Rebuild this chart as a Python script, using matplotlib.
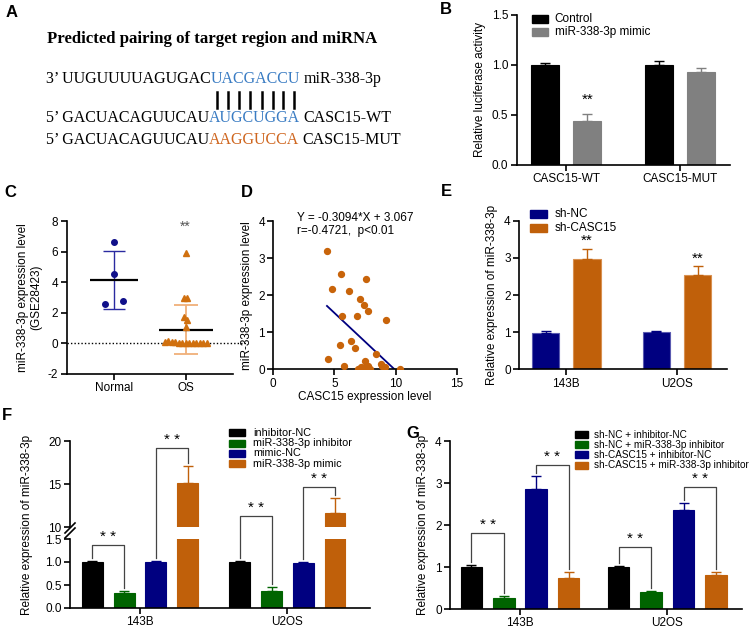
import matplotlib.pyplot as plt
import numpy as np
from matplotlib.lines import Line2D
from matplotlib.patches import Rectangle

W, H = 753, 630
plt.rcParams["font.family"] = ["Liberation Sans", "DejaVu Sans"]
plt.rcParams["font.size"] = 8.5
plt.rcParams["axes.unicode_minus"] = False

black = "#000000"
grey = "#808080"
navy = "#000080"
orange = "#c0600a"
green = "#006400"
seq_blue = "#3a7cc3"
seq_orange = "#cf661f"

# ---------------- data ----------------
# A: predicted pairing
seq_lines = [
    ("3\u2019 UUGUUUUAGUGAC", "UACGACCU", "miR-338-3p", seq_blue),
    ("5\u2019 GACUACAGUUCAU", "AUGCUGGA", "CASC15-WT", seq_blue),
    ("5\u2019 GACUACAGUUCAU", "AAGGUCCA", "CASC15-MUT", seq_orange),
]

# B: luciferase
b_groups = ["CASC15-WT", "CASC15-MUT"]
b_control = [1.0, 1.0]
b_control_err = [0.02, 0.04]
b_mimic = [0.44, 0.93]
b_mimic_err = [0.07, 0.04]

# C: GSE28423
c_groups = ["Normal", "OS"]
c_normal = [6.6, 4.55, 2.55, 2.8]
c_os = [5.9, 3.0, 3.0, 1.7, 1.55, 1.1,
        0.07, 0.17, 0.09, 0.07, 0.04, 0.03, 0.03, 0.03, 0.03, 0.03, 0.03, 0.03, 0.03]
c_mean = [4.15, 0.9]
c_sd = [1.9, 1.6]

# D: correlation
d_casc15 = [4.39, 5.5, 4.8, 6.17, 7.56, 7.1, 7.4, 7.75, 5.64, 6.83, 9.25, 5.44, 6.33,
            6.67, 8.36, 4.44, 7.5, 5.78, 6.89, 7.2, 7.5, 7.75, 8.78, 8.89, 9.1, 10.36, 7.9]
d_mir = [3.2, 2.56, 2.17, 2.1, 2.43, 1.89, 1.74, 1.57, 1.45, 1.44, 1.34, 0.66, 0.75,
         0.57, 0.40, 0.29, 0.23, 0.09, 0.01, 0.05, 0.06, 0.1, 0.13, 0.1, 0.06, 0.0, 0.0]
d_slope, d_intercept = -0.3094, 3.067

# E: sh-CASC15
e_groups = ["143B", "U2OS"]
e_nc = [0.98, 1.0]
e_nc_err = [0.04, 0.02]
e_sh = [2.97, 2.55]
e_sh_err = [0.28, 0.22]

# F: inhibitor / mimic
f_groups = ["143B", "U2OS"]
f_labels = ["inhibitor-NC", "miR-338-3p inhibitor", "mimic-NC", "miR-338-3p mimic"]
f_inh_nc = [1.0, 1.0]
f_inh_nc_err = [0.02, 0.03]
f_inh = [0.32, 0.38]
f_inh_err = [0.05, 0.07]
f_mim_nc = [1.0, 0.98]
f_mim_nc_err = [0.02, 0.02]
f_mim = [15.1, 11.7]
f_mim_err = [2.0, 1.7]
# (group, bar a, bar b, bracket height)
f_brackets = [(0, 0, 1, 1.37), (0, 2, 3, 19.15), (1, 0, 1, 11.3), (1, 2, 3, 14.7)]

# G: rescue
g_groups = ["143B", "U2OS"]
g_labels = ["sh-NC + inhibitor-NC", "sh-NC + miR-338-3p inhibitor",
            "sh-CASC15 + inhibitor-NC", "sh-CASC15 + miR-338-3p inhibitor"]
g_shnc_inc = [1.0, 1.0]
g_shnc_inc_err = [0.04, 0.03]
g_shnc_inh = [0.27, 0.4]
g_shnc_inh_err = [0.04, 0.04]
g_sh_inc = [2.85, 2.35]
g_sh_inc_err = [0.32, 0.18]
g_sh_inh = [0.75, 0.82]
g_sh_inh_err = [0.12, 0.07]
g_brackets = [(0, 0, 1, 1.82), (0, 2, 3, 3.44), (1, 0, 1, 1.47), (1, 2, 3, 2.9)]

# ---------------- helpers ----------------
fig = plt.figure(figsize=(W / 100, H / 100), dpi=100)
renderer = fig.canvas.get_renderer()


def add_ax(left, top, right, bottom):
    return fig.add_axes([left / W, 1 - bottom / H, (right - left) / W, (bottom - top) / H])


def prism(ax):
    for s in ("top", "right"):
        ax.spines[s].set_visible(False)
    for s in ("left", "bottom"):
        ax.spines[s].set_linewidth(1.2)
    ax.tick_params(direction="out", length=4, width=1.2, labelsize=8.5, pad=2)


def draw_bars(ax, x, vals, errs, color, width, edge=None):
    ax.bar(x, vals, width, color=color, edgecolor=edge or color, linewidth=0.8, zorder=2)
    ax.errorbar(x, vals, yerr=[np.zeros(len(vals)), errs], fmt="none", ecolor=color,
                elinewidth=1, capsize=3.6, capthick=1, zorder=3)


def legend_block(x0, y0, labels, colors, step, size, box_w, box_h, gap):
    for i, (lab, col) in enumerate(zip(labels, colors)):
        y = y0 + i * step
        fig.patches.append(Rectangle(((x0) / W, 1 - (y + box_h / 2) / H), box_w / W, box_h / H,
                                     transform=fig.transFigure, color=col, figure=fig))
        fig.text((x0 + box_w + gap) / W, 1 - y / H, lab, fontsize=size, va="center")


def panel_label(x, y, s):
    fig.text(x / W, 1 - y / H, s, fontsize=12, fontweight="bold", ha="center", va="center")


def to_fig(disp):
    return fig.transFigure.inverted().transform(disp)


def bracket(pick_ax, x1, v1, x2, v2, top, gap=3):
    a1 = pick_ax(v1).transData.transform((x1, v1))
    a2 = pick_ax(v2).transData.transform((x2, v2))
    a1[1] += gap
    a2[1] += gap
    t1 = pick_ax(top).transData.transform((x1, top))
    t2 = pick_ax(top).transData.transform((x2, top))
    pts = to_fig(np.array([a1, t1, t2, a2]))
    fig.lines.append(Line2D(pts[:, 0], pts[:, 1], transform=fig.transFigure,
                            color="#444444", lw=0.9, figure=fig))
    mid = to_fig(((t1[0] + t2[0]) / 2, t1[1] + 8))
    fig.text(mid[0], mid[1], "* *", ha="center", va="center", fontsize=11)


def swarm(values, dy, step):
    values = np.asarray(values, dtype=float)
    offs = np.zeros(len(values))
    used = np.zeros(len(values), bool)
    for i in range(len(values)):
        if used[i]:
            continue
        idx = [j for j in range(len(values)) if not used[j] and abs(values[j] - values[i]) < dy]
        for k, j in enumerate(idx):
            offs[j] = (k - (len(idx) - 1) / 2) * step
            used[j] = True
    return offs


# ---------------- A ----------------
panel_label(11.7, 12.3, "A")
serif = ["Liberation Serif", "DejaVu Serif"]
seq_size = 11.5
fig.text(211.7 / W, 1 - 39 / H, "Predicted pairing of target region and miRNA",
         family=serif, fontsize=12.1, fontweight="bold", ha="center", va="center")


def text_width(s):
    t = fig.text(0, 0, s, fontsize=seq_size, family=serif)
    w = t.get_window_extent(renderer).width
    t.remove()
    return w


x0 = 46
bar_centers = []
for (head, core, tail, col), y in zip(seq_lines, [78.7, 118.3, 140]):
    fig.text(x0 / W, 1 - y / H, head, family=serif, fontsize=seq_size, va="center")
    xr = x0 + text_width(head + core)
    fig.text(xr / W, 1 - y / H, core, family=serif, fontsize=seq_size, va="center",
             ha="right", color=col)
    xf = x0 + text_width(head + core + " " + tail)
    fig.text(xf / W, 1 - y / H, tail, family=serif, fontsize=seq_size, va="center", ha="right")
    if not bar_centers:
        for i, ch in enumerate(core):
            right = x0 + text_width(head + core[:i + 1])
            bar_centers.append(right - text_width(ch) / 2)
for bx in bar_centers:
    fig.lines.append(Line2D([bx / W, bx / W], [1 - 91.7 / H, 1 - 108.3 / H],
                            transform=fig.transFigure, color="black", lw=1.8, figure=fig))

# ---------------- B ----------------
panel_label(445.8, 9.2, "B")
axb = add_ax(516.7, 14.7, 730, 164.7)
prism(axb)
xb = np.arange(len(b_groups))
draw_bars(axb, xb - 0.187, b_control, b_control_err, black, 0.245)
draw_bars(axb, xb + 0.187, b_mimic, b_mimic_err, grey, 0.245)
axb.set_xlim(-0.432, 1.44)
axb.set_ylim(0, 1.5)
axb.set_yticks([0, 0.5, 1.0, 1.5])
axb.yaxis.set_major_formatter("{x:.1f}")
axb.set_xticks(xb, b_groups)
axb.set_ylabel("Relative luciferase activity", fontsize=8.5)
axb.text(xb[0] + 0.187, b_mimic[0] + b_mimic_err[0] + 0.14, "**", ha="center",
         va="center", fontsize=11)
legend_block(531.7, 19, ["Control", "miR-338-3p mimic"], [black, grey], 13.3, 8.5, 16.6, 8, 6.5)

# ---------------- C ----------------
panel_label(10, 192.5, "C")
axc = add_ax(66.7, 221, 233, 374)
prism(axc)
axc.set_xlim(-0.66, 1.66)
axc.set_ylim(-2, 8)
axc.set_yticks(np.arange(-2, 9, 2))
axc.set_xticks([0, 1], c_groups)
axc.plot([-0.66, 1.85], [0, 0], ls=(0, (1, 1.5)), color="black", lw=1, clip_on=False)
axc.errorbar([0], [c_mean[0]], yerr=[c_sd[0]], fmt="none", ecolor="#2a2aa0", elinewidth=1,
             capsize=8.2, capthick=1, zorder=2)
axc.errorbar([1], [c_mean[1]], yerr=[c_sd[1]], fmt="none", ecolor="#f0b07a", elinewidth=1.3,
             capsize=8.6, capthick=1.3, zorder=2)
axc.hlines(c_mean[0], -0.33, 0.33, color="black", lw=1.6, zorder=3)
axc.hlines(c_mean[1], 1 - 0.376, 1 + 0.376, color="black", lw=1.6, zorder=3)
axc.plot(0 + swarm(c_normal, 0.4, 0.26), c_normal, "o", color="#10108a", ms=4, zorder=4)
axc.plot(1 + swarm(c_os, 0.3, 0.049), c_os, "^", color="#d0700f", ms=4.2, zorder=4,
         clip_on=False)
axc.text(1, 7.6, "**", ha="center", va="center", color="#555555", fontsize=10)
axc.set_ylabel("miR-338-3p expression level\n(GSE28423)", fontsize=8.5)

# ---------------- D ----------------
panel_label(247, 192.5, "D")
axd = add_ax(273.3, 221, 456.7, 369.3)
prism(axd)
axd.scatter(d_casc15, d_mir, s=18, color="#c8640a", zorder=3)
xl = np.array([min(d_casc15), max(d_casc15)])
axd.plot(xl, d_slope * xl + d_intercept, color=navy, lw=1.3, zorder=2)
axd.set_xlim(0, 15)
axd.set_ylim(0, 4)
axd.set_xticks([0, 5, 10, 15])
axd.set_yticks([0, 1, 2, 3, 4])
axd.set_xlabel("CASC15 expression level", fontsize=8.5, labelpad=1)
axd.set_ylabel("miR-338-3p expression level", fontsize=8.5)
axd.text(1.95, 4.08, "Y = -0.3094*X + 3.067", fontsize=8.5, va="center")
axd.text(1.95, 3.72, "r=-0.4721,  p<0.01", fontsize=8.5, va="center")

# ---------------- E ----------------
panel_label(446.7, 191.7, "E")
axe = add_ax(519, 220.7, 726.7, 369.3)
prism(axe)
xe = np.arange(len(e_groups))
draw_bars(axe, xe - 0.187, e_nc, e_nc_err, navy, 0.248, edge="#5a5ab0")
draw_bars(axe, xe + 0.187, e_sh, e_sh_err, orange, 0.248, edge="#d89050")
axe.set_xlim(-0.427, 1.449)
axe.set_ylim(0, 4)
axe.set_yticks([0, 1, 2, 3, 4])
axe.set_xticks(xe, e_groups)
axe.set_ylabel("Relative expression of miR-338-3p", fontsize=8.5)
for i in range(len(xe)):
    axe.text(xe[i] + 0.187, e_sh[i] + e_sh_err[i] + 0.2, "**", ha="center", va="center",
             fontsize=11)
legend_block(530, 214, ["sh-NC", "sh-CASC15"], [navy, orange], 13.7, 8.5, 16.7, 8, 8)

# ---------------- F ----------------
panel_label(6.7, 415.8, "F")
axfl = add_ax(70, 539, 370, 608)
axfu = add_ax(70, 441, 370, 527.3)
prism(axfl)
prism(axfu)
axfu.spines["bottom"].set_visible(False)
axfu.tick_params(bottom=False, labelbottom=False)
xf = np.arange(len(f_groups))
f_sets = [(f_inh_nc, f_inh_nc_err, black), (f_inh, f_inh_err, green),
          (f_mim_nc, f_mim_nc_err, navy), (f_mim, f_mim_err, orange)]
f_off = np.array([-1.5, -0.5, 0.5, 1.5]) * 0.215
for ax in (axfl, axfu):
    for k, (v, e, c) in enumerate(f_sets):
        draw_bars(ax, xf + f_off[k], v, e, c, 0.142)
    ax.set_xlim(-0.475, 1.56)
axfl.set_ylim(0, 1.5)
axfl.set_yticks([0, 0.5, 1.0, 1.5])
axfl.yaxis.set_major_formatter("{x:.1f}")
axfu.set_ylim(10, 20)
axfu.set_yticks([10, 15, 20])
axfl.set_xticks(xf, f_groups)
fig.text(27 / W, 1 - 525 / H, "Relative expression of miR-338-3p", rotation=90,
         ha="center", va="center", fontsize=8.5)
for dy in (0, 5):
    fig.lines.append(Line2D([65 / W, 75 / W], [1 - (538 - dy) / H, 1 - (528 - dy) / H],
                            transform=fig.transFigure, color="black", lw=1.2, figure=fig))


def f_pick(v):
    return axfu if v >= 10 else axfl


for g, a, b, top in f_brackets:
    va_, ea_ = f_sets[a][0][g], f_sets[a][1][g]
    vb_, eb_ = f_sets[b][0][g], f_sets[b][1][g]
    bracket(f_pick, xf[g] + f_off[a], va_ + ea_, xf[g] + f_off[b], vb_ + eb_, top)
legend_block(229.3, 432.7, f_labels, [black, green, navy, orange], 10.3, 7.8, 15.7, 7, 8)

# ---------------- G ----------------
panel_label(413, 433.3, "G")
axg = add_ax(450, 441, 741.7, 609)
prism(axg)
xg = np.arange(len(g_groups))
g_sets = [(g_shnc_inc, g_shnc_inc_err, black), (g_shnc_inh, g_shnc_inh_err, green),
          (g_sh_inc, g_sh_inc_err, navy), (g_sh_inh, g_sh_inh_err, orange)]
g_off = np.array([-1.5, -0.5, 0.5, 1.5]) * 0.22
for k, (v, e, c) in enumerate(g_sets):
    draw_bars(axg, xg + g_off[k], v, e, c, 0.146)
axg.set_xlim(-0.475, 1.505)
axg.set_ylim(0, 4)
axg.set_yticks([0, 1, 2, 3, 4])
axg.set_xticks(xg, g_groups)
axg.set_ylabel("Relative expression of miR-338-3p", fontsize=8.5)
for g, a, b, top in g_brackets:
    bracket(lambda v: axg, xg[g] + g_off[a], g_sets[a][0][g] + g_sets[a][1][g],
            xg[g] + g_off[b], g_sets[b][0][g] + g_sets[b][1][g], top)
legend_block(575, 434.5, g_labels, [black, green, navy, orange], 10.2, 7.2, 13.3, 7, 5.5)

fig.savefig("out.png", dpi=100)
